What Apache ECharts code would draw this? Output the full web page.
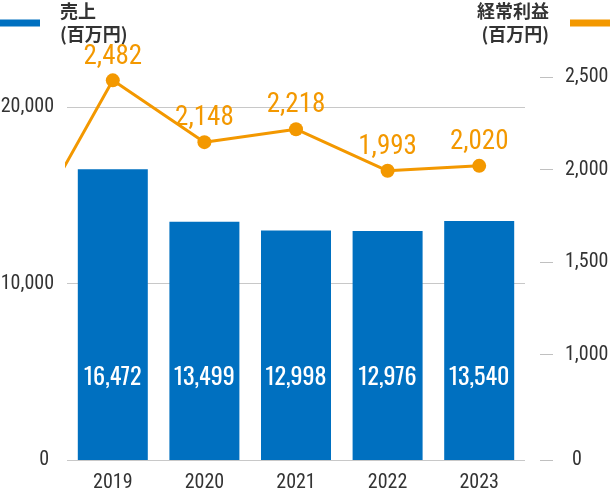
<!DOCTYPE html>
<html><head><meta charset="utf-8">
<script src="https://cdn.jsdelivr.net/npm/echarts@6/dist/echarts.min.js"></script>
<style>html,body{margin:0;padding:0;background:#fff}#c{width:610px;height:494px}</style>
</head><body><div id="c"></div>
<script>
const years = ['2019', '2020', '2021', '2022', '2023'];
const sales = [16472, 13499, 12998, 12976, 13540];
const profitYears = [2018, 2019, 2020, 2021, 2022, 2023];
const profit = [1600, 2482, 2148, 2218, 1993, 2020];
const salesTicks = [0, 10000, 20000];
const profitTicks = [0, 1000, 1500, 2000, 2500];
const profitBreak = 430; // broken right axis: the "0" tick sits at this value

const NUM_FONT = "'Roboto Condensed',sans-serif";
const BAR_FONT = "Oswald,'Roboto Condensed',sans-serif";
const JP_FONT = "'Noto Sans CJK JP','Noto Sans',sans-serif";
const BLUE = '#0070C0';
const ORANGE = '#F39800';
const TXT = '#333';
const fmt = v => Number(v).toLocaleString('en-US');

const chart = echarts.init(document.getElementById('c'), null, {renderer: 'canvas'});
chart.setOption({
  animation: false,
  legend: [
    {
      left: 0, top: 0, padding: 0, data: ['売上'], icon: 'rect',
      itemWidth: 40, itemHeight: 7, selectedMode: false,
      formatter: '{name}\n(百万円)',
      textStyle: {fontFamily: JP_FONT, fontSize: 18, fontWeight: 'bold', color: TXT, lineHeight: 23, padding: [0, 0, 0, 15]}
    },
    {
      right: 0, top: 0, padding: 0, data: ['経常利益'], icon: 'rect', align: 'right',
      itemWidth: 40, itemHeight: 7, selectedMode: false,
      formatter: '{name}\n(百万円)',
      textStyle: {fontFamily: JP_FONT, fontSize: 18, fontWeight: 'bold', color: TXT, lineHeight: 23, padding: [0, 16, 0, 0]}
    }
  ],
  grid: [
    {left: 67, right: 85, top: 107, bottom: 34, outerBoundsMode: 'none', containLabel: false},
    {left: 67, right: 85, top: 60, bottom: 34, outerBoundsMode: 'none', containLabel: false}
  ],
  xAxis: [
    {
      type: 'category', gridIndex: 0, data: years,
      axisLine: {show: false}, axisTick: {show: false},
      axisLabel: {fontFamily: NUM_FONT, fontSize: 20, color: TXT, margin: 13}
    },
    {type: 'value', gridIndex: 1, min: 2018.5, max: 2023.5, show: false}
  ],
  yAxis: [
    {
      type: 'value', gridIndex: 0, min: salesTicks[0], max: salesTicks[salesTicks.length - 1],
      interval: salesTicks[1] - salesTicks[0],
      axisLine: {show: false}, axisTick: {show: false},
      splitLine: {show: true, lineStyle: {color: '#c8c8c8', width: 1}},
      axisLabel: {
        fontFamily: NUM_FONT, fontSize: 20, color: TXT, margin: 13,
        formatter: v => v === 0 ? '{z|0}' : fmt(v),
        rich: {z: {fontFamily: NUM_FONT, fontSize: 20, color: TXT, padding: [0, 5, 0, 0]}}
      }
    },
    {
      type: 'value', gridIndex: 1, position: 'right', offset: 15,
      min: profitBreak, max: 2592,
      axisLine: {show: false},
      splitLine: {show: false},
      axisTick: {
        show: true, length: 13, inside: false,
        customValues: profitTicks.map(v => v === 0 ? profitBreak : v),
        lineStyle: {color: '#c0c0c0', width: 1}
      },
      axisLabel: {
        customValues: profitTicks.map(v => v === 0 ? profitBreak : v),
        fontFamily: NUM_FONT, fontSize: 20, color: TXT, margin: 25,
        formatter: v => v === profitBreak ? '{z|0}' : fmt(v),
        rich: {z: {fontFamily: NUM_FONT, fontSize: 20, color: TXT, padding: [0, 0, 0, 7]}}
      }
    }
  ],
  series: [
    {
      name: '売上', type: 'bar', xAxisIndex: 0, yAxisIndex: 0,
      data: sales, barWidth: 70, color: BLUE,
      itemStyle: {color: BLUE},
      label: {
        show: true, position: 'insideBottom', distance: 70,
        fontFamily: BAR_FONT, fontSize: 24, color: '#fff',
        formatter: p => fmt(p.value)
      }
    },
    {
      name: '経常利益', type: 'line', xAxisIndex: 1, yAxisIndex: 1,
      clip: true, color: ORANGE,
      data: profitYears.map((y, i) => ({
        value: [y, profit[i]],
        label: {show: y >= 2019}
      })),
      symbol: 'circle', symbolSize: 14,
      lineStyle: {color: ORANGE, width: 3},
      itemStyle: {color: ORANGE},
      label: {
        show: true, position: 'top', distance: 3,
        fontFamily: NUM_FONT, fontSize: 27, color: ORANGE,
        formatter: p => fmt(p.value[1])
      },
      z: 5
    }
  ]
});
</script>
</body></html>
